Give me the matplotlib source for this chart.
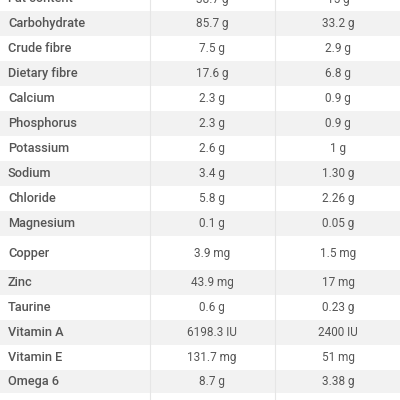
import matplotlib
matplotlib.use('Agg')
import matplotlib.pyplot as plt
from matplotlib.patches import Rectangle

nutrients = ['Fat content', 'Carbohydrate', 'Crude fibre', 'Dietary fibre', 'Calcium',
             'Phosphorus', 'Potassium', 'Sodium', 'Chloride', 'Magnesium', 'Copper',
             'Zinc', 'Taurine', 'Vitamin A', 'Vitamin E', 'Omega 6', '']
per_kg = ['38.7 g', '85.7 g', '7.5 g', '17.6 g', '2.3 g', '2.3 g', '2.6 g', '3.4 g',
          '5.8 g', '0.1 g', '3.9 mg', '43.9 mg', '0.6 g', '6198.3 IU', '131.7 mg',
          '8.7 g', '']
per_1000 = ['15 g', '33.2 g', '2.9 g', '6.8 g', '0.9 g', '0.9 g', '1 g', '1.30 g',
            '2.26 g', '0.05 g', '1.5 mg', '17 mg', '0.23 g', '2400 IU', '51 mg',
            '3.38 g', '']

# row heights in pixels
heights = [24, 25, 25, 25, 25, 25, 25, 25, 25, 25, 34, 25, 25, 25, 25, 23, 30]
start = -13

fig = plt.figure(figsize=(4, 4), dpi=100)
ax = fig.add_axes([0, 0, 1, 1])
ax.set_xlim(0, 400)
ax.set_ylim(400, 0)
ax.axis('off')

txt = '#555555'
y = start
for i, name in enumerate(nutrients):
    h = heights[i]
    if i % 2 == 1:
        ax.add_patch(Rectangle((0, y), 400, h, color='#f2f2f2', lw=0))
    yc = y + h / 2
    ax.text(8, yc, name, ha='left', va='center', fontsize=9.2, color=txt,
            family='Roboto', fontweight='medium')
    ax.text(212, yc, per_kg[i], ha='center', va='center', fontsize=8.5, color=txt,
            family='Roboto')
    ax.text(338, yc, per_1000[i], ha='center', va='center', fontsize=8.5, color=txt,
            family='Roboto')
    y += h

for xv in (150, 275):
    ax.plot([xv, xv], [0, 400], color='#e6e6e6', lw=0.8)

fig.savefig('out.png', dpi=100)
